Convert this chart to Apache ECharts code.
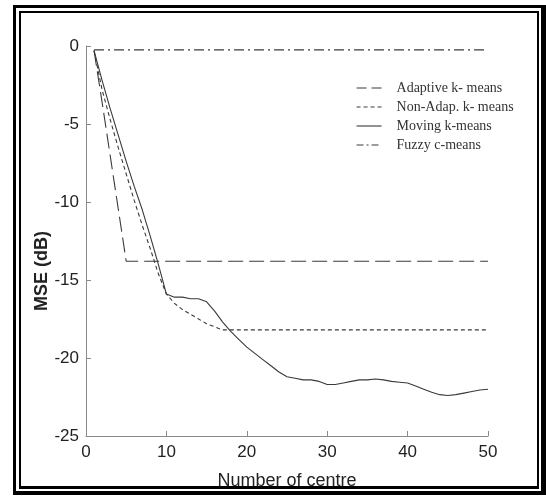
<!DOCTYPE html>
<html>
<head>
<meta charset="utf-8">
<script src="https://cdn.jsdelivr.net/npm/echarts@6/dist/echarts.min.js"></script>
<style>
  html, body { margin: 0; padding: 0; background: #fff; }
  #chart { width: 546px; height: 497px; }
</style>
</head>
<body>
<div id="chart"></div>
<script>
// MSE (dB) against the number of centres for four clustering methods
const seriesNames = ['Adaptive k- means', 'Non-Adap. k- means', 'Moving k-means', 'Fuzzy c-means'];

const movingCentres = [1, 2, 3, 4, 5, 6, 7, 8, 9, 10, 11, 12, 13, 14, 15, 16, 17, 18, 19, 20,
  21, 22, 23, 24, 25, 26, 27, 28, 29, 30, 31, 32, 33, 34, 35, 36, 37, 38, 39, 40,
  41, 42, 43, 44, 45, 46, 47, 48, 49, 50];
const movingMSE = [-0.3, -2.2, -4.0, -5.7, -7.4, -9.0, -10.5, -12.2, -14.0, -15.9,
  -16.1, -16.1, -16.2, -16.2, -16.4, -17.0, -17.7, -18.3, -18.8, -19.3,
  -19.7, -20.1, -20.5, -20.9, -21.2, -21.3, -21.4, -21.4, -21.5, -21.7,
  -21.7, -21.6, -21.5, -21.4, -21.4, -21.35, -21.4, -21.5, -21.55, -21.6,
  -21.8, -22.0, -22.2, -22.35, -22.4, -22.35, -22.25, -22.15, -22.05, -22.0];

const nonAdapCentres = [1, 2, 3, 4, 5, 6, 7, 8, 9, 10, 11, 12, 13, 14, 15, 16, 17, 50];
const nonAdapMSE = [-0.3, -2.8, -4.7, -6.5, -8.2, -9.9, -11.5, -13.0, -14.6, -15.9,
  -16.5, -16.9, -17.2, -17.5, -17.8, -18.0, -18.2, -18.2];

const adaptiveCentres = [1, 2, 3, 4, 5, 50];
const adaptiveMSE = [-0.3, -3.6, -7.0, -10.4, -13.8, -13.8];

const fuzzyCentres = [1, 50];
const fuzzyMSE = [-0.25, -0.25];

const xMin = 0, xMax = 50, xStep = 10;
const yMin = -25, yMax = 0, yStep = 5;

const pairs = (xs, ys) => xs.map((x, i) => [x, ys[i]]);

const ink = '#3a3a3a';
const axisGrey = '#8a8a8a';
const dashLong = [15, 6];
const dashShort = [4, 3];
const dashDot = [10, 4, 2, 4];
// shorter patterns for the legend samples
const legendDash = [[10, 5], [4, 3], 'solid', [7, 3, 2, 3]];

const lineSeries = (name, data, type) => ({
  name: name,
  type: 'line',
  data: data,
  symbol: 'none',
  showSymbol: false,
  silent: true,
  animation: false,
  itemStyle: { color: ink },
  lineStyle: { color: ink, width: 1.1, type: type }
});

// double frame around the figure
const frameBars = [
  [13, 5, 528, 3], [13, 5, 3, 490], [541, 5, 5, 490], [13, 491, 533, 4],
  [19, 11, 520, 2], [19, 11, 2, 478], [537, 11, 2, 478], [19, 486, 520, 3]
];

const chart = echarts.init(document.getElementById('chart'), null, { renderer: 'canvas' });
chart.setOption({
  backgroundColor: '#fff',
  animation: false,
  grid: { left: 86, right: 58, top: 46, bottom: 61, containLabel: false },
  xAxis: {
    type: 'value', min: xMin, max: xMax, interval: xStep,
    name: 'Number of centre', nameLocation: 'middle', nameGap: 36,
    nameTextStyle: { fontFamily: 'Liberation Sans', fontSize: 18, color: '#222' },
    axisLine: { show: true, onZero: false, lineStyle: { color: axisGrey, width: 1 } },
    axisTick: { show: true, inside: true, length: 5, lineStyle: { color: axisGrey } },
    axisLabel: { fontFamily: 'Liberation Sans', fontSize: 17, color: '#222', margin: 8 },
    splitLine: { show: false }
  },
  yAxis: {
    type: 'value', min: yMin, max: yMax, interval: yStep,
    axisLine: { show: true, onZero: false, lineStyle: { color: axisGrey, width: 1 } },
    axisTick: { show: true, inside: true, length: 5, lineStyle: { color: axisGrey } },
    axisLabel: { fontFamily: 'Liberation Sans', fontSize: 17, color: '#222', margin: 7 },
    splitLine: { show: false }
  },
  legend: {
    orient: 'vertical', left: 351, top: 76,
    itemWidth: 25, itemHeight: 12, itemGap: 5,
    selectedMode: false,
    itemStyle: { opacity: 0 },
    lineStyle: { color: ink, width: 1.1 },
    textStyle: { fontFamily: 'Liberation Serif', fontSize: 14, lineHeight: 14, color: '#333', padding: [0, 0, 0, 10] },
    data: seriesNames.map((n, i) => ({ name: n, lineStyle: { color: ink, width: 1.1, type: legendDash[i] } }))
  },
  series: [
    lineSeries(seriesNames[0], pairs(adaptiveCentres, adaptiveMSE), dashLong),
    lineSeries(seriesNames[1], pairs(nonAdapCentres, nonAdapMSE), dashShort),
    lineSeries(seriesNames[2], pairs(movingCentres, movingMSE), 'solid'),
    lineSeries(seriesNames[3], pairs(fuzzyCentres, fuzzyMSE), dashDot)
  ],
  graphic: [
    {
      type: 'text', left: 33, top: 231, rotation: Math.PI / 2,
      style: { text: 'MSE (dB)', fontFamily: 'Liberation Sans', fontSize: 18, fontWeight: 'bold', fill: '#222' }
    }
  ].concat(frameBars.map(b => ({
    type: 'rect', shape: { x: b[0], y: b[1], width: b[2], height: b[3] },
    style: { fill: '#000' }, silent: true
  })))
});
</script>
</body>
</html>
